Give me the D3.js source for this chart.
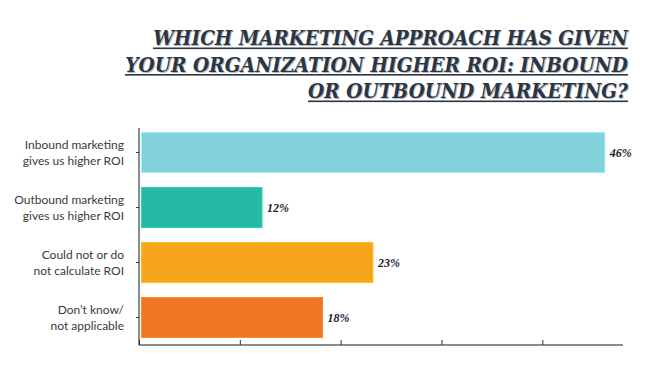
<!DOCTYPE html>
<html><head><meta charset="utf-8">
<script src="https://cdn.jsdelivr.net/npm/d3@7"></script>
<style>body{margin:0;background:#fff}svg{display:block}</style>
</head><body>
<svg id="c" width="648" height="365"></svg>
<script>
const titleLines = ["WHICH MARKETING APPROACH HAS GIVEN","YOUR ORGANIZATION HIGHER ROI: INBOUND","OR OUTBOUND MARKETING?"];
const titleWidths = [475,503,320];
const categories = [["Inbound marketing","gives us higher ROI"],["Outbound marketing","gives us higher ROI"],["Could not or do","not calculate ROI"],["Don\u2019t know/","not applicable"]];
const values = [46,12,23,18];
const colors = ["#82d2dc","#24b9a2","#f7a51c","#f07623"];
const xTicks = [0,10,20,30,40];

const svg = d3.select("#c");
const keys = categories.map((d,i)=>i);
const x = d3.scaleLinear().domain([0,48]).range([139,623]);
const y = d3.scaleBand().domain(keys).range([125,345]).paddingInner(15/55).paddingOuter(7.5/55);

// title
const title = svg.append("g");
titleLines.forEach((t,i)=>{
  const yy = 45 + i*26.5;
  const w = titleWidths[i];
  const g = title.append("g");
  const common = s => s.attr("x",0).attr("y",0).attr("text-anchor","end").attr("font-family","DejaVu Serif").attr("font-weight","bold")
    .attr("font-style","italic").attr("font-size",20.5).text(t);
  g.append("text").attr("transform","translate(1,1)").attr("fill","#b8bcc2").call(common);
  const main = g.append("text").attr("fill","#2b3642").call(common);
  const nat = main.node().getComputedTextLength();
  g.attr("transform",`translate(628,${yy}) scale(${w/nat},1)`);
  title.append("rect").attr("x",628-w).attr("y",yy+2.5).attr("width",w).attr("height",1.6).attr("fill","#2b3642");
});

// bars
svg.selectAll("rect.bar").data(values).join("rect").attr("class","bar")
  .attr("x",x(0)+2.5).attr("y",(d,i)=>y(i)).attr("width",d=>x(d)-x(0)-0.5)
  .attr("height",y.bandwidth()).attr("fill",(d,i)=>colors[i])
  .attr("stroke",(d,i)=>d3.color(colors[i]).brighter(0.4)).attr("stroke-width",1);

// value labels
svg.selectAll("text.val").data(values).join("text").attr("class","val")
  .attr("x",d=>x(d)+7).attr("y",(d,i)=>y(i)+y.bandwidth()/2+4)
  .attr("font-family","Liberation Serif").attr("font-weight","bold").attr("font-style","italic")
  .attr("font-size",12).attr("fill","#1c2230").text(d=>d+"%");

// y axis
const yAxis = svg.append("g").attr("transform",`translate(${x(0)},0)`)
  .call(d3.axisLeft(y).tickSize(3).tickFormat(""));
yAxis.select(".domain").attr("stroke","#8a8d90").attr("stroke-width",2).attr("d",`M0,128V345`);
yAxis.selectAll(".tick line").attr("stroke","#333");

// category labels
categories.forEach((lines,i)=>{
  const cy = y(i)+y.bandwidth()/2;
  const t = svg.append("text").attr("text-anchor","end").attr("font-family","Lato").attr("font-weight",400)
    .attr("font-size",12).attr("fill","#3a3a3a");
  lines.forEach((l,j)=>{
    t.append("tspan").attr("x",124).attr("y",cy - 3.5 + j*15.5).text(l);
  });
});

// x axis
const xAxis = svg.append("g").attr("transform",`translate(0,345)`)
  .call(d3.axisBottom(x).tickValues(xTicks).tickSize(-5).tickFormat(""));
xAxis.select(".domain").attr("stroke","#8a8d90").attr("stroke-width",2).attr("d",`M${x(0)},0H${x(48)}`);
xAxis.selectAll(".tick line").attr("stroke","#333");
</script>
</body></html>
